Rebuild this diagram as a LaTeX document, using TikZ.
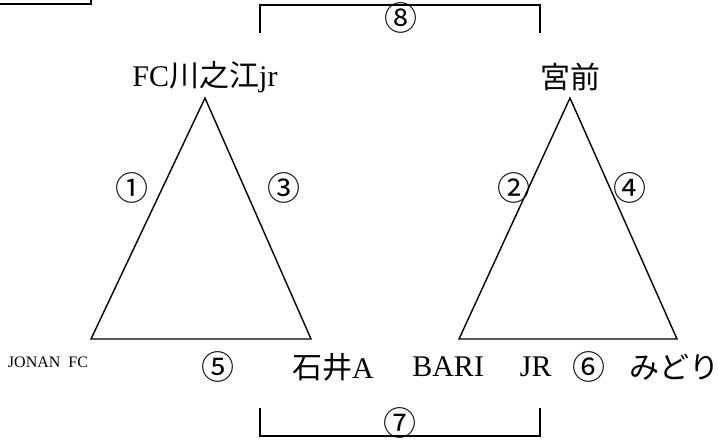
\documentclass[tikz,border=0pt]{standalone}
\usepackage{fontspec}
\setmainfont{Liberation Serif}
\newfontfamily\jpfont{Noto Sans CJK JP}
\usetikzlibrary{positioning}

\begin{document}
\begin{tikzpicture}[x=1pt, y=-1pt, draw=black, line width=1.4pt, font=\fontsize{30}{32}\selectfont]
			\tikzstyle{team}=[inner sep=0pt, anchor=center]
			\tikzstyle{num}=[inner sep=0pt, anchor=center, font=\jpfont\fontsize{33}{35}\selectfont]
			\tikzstyle{bracket}=[line width=2pt]
			\useasboundingbox (0,0) rectangle (718,441);

			% left group
			\coordinate (lt) at (205,98);
			\coordinate (ll) at (91,339);
			\coordinate (lr) at (311,339);
			\draw (lt) -- (ll) -- (lr) -- cycle;

			% right group
			\coordinate (rt) at (570,98);
			\coordinate (rl) at (459,339);
			\coordinate (rr) at (677,339);
			\draw (rt) -- (rl) -- (rr) -- cycle;

			% brackets
			\coordinate (b8l) at (260,33);
			\coordinate (b8r) at (540,33);
			\draw[bracket] (b8l) -- ++(0,-28) -| (b8r);
			\coordinate (b7l) at (260,408);
			\coordinate (b7r) at (540,408);
			\draw[bracket] (b7l) -- ++(0,28) -| (b7r);

			% clipped box top left
			\draw[bracket] (0,4) -- (91,4) -- (91,0);

			\node[team] (kawa) at (205,77) {FC{\jpfont 川之江}jr};
			\node[team] (miya) at (570,77) {\jpfont 宮前};
			\node[team, font=\fontsize{16}{18}\selectfont] (jonan) at (48,362) {JONAN\ \ FC};
			\node[team] (ishi) at (333,367) {{\jpfont 石井}A};
			\node[team] (bari) at (482,367) {BARI\hspace{1.2em}JR};
			\node[team] (mido) at (674,367) {\jpfont みどり};

			\node[num] (n1) at (132,188) {①};
			\node[num] (n2) at (514,188) {②};
			\node[num] (n3) at (284,188) {③};
			\node[num] (n4) at (630,188) {④};
			\node[num] (n5) at (218,367) {⑤};
			\node[num] (n6) at (589,367) {⑥};
			\node[num] (n7) at (400,423) {⑦};
			\node[num] (n8) at (401,18) {⑧};
			\end{tikzpicture}
\end{document}
